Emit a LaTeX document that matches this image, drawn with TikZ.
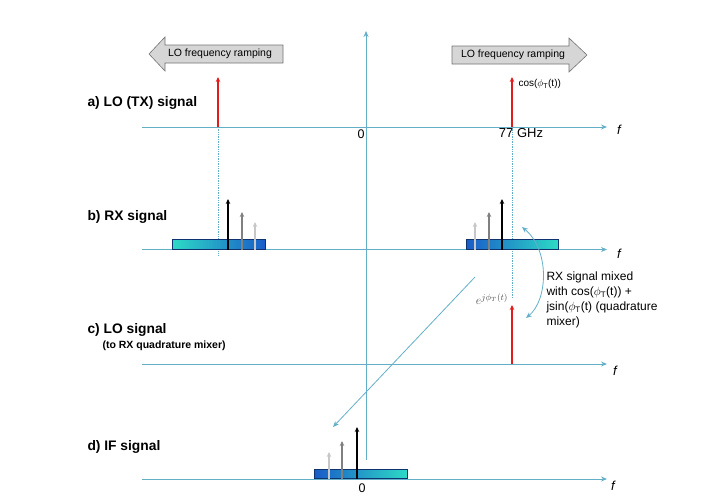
\documentclass[tikz,border=0pt]{standalone}
\usepackage{fontspec}
\setmainfont{Liberation Sans}
\usetikzlibrary{arrows.meta}
\definecolor{axisblue}{RGB}{100,175,200}
\definecolor{tonered}{RGB}{226,28,28}
\definecolor{bandteal}{RGB}{45,218,198}
\definecolor{bandmid}{RGB}{35,140,215}
\definecolor{bandblue}{RGB}{25,92,200}
\definecolor{rampgray}{RGB}{214,214,214}
\tikzset{
  faxis/.style   = {draw=axisblue, line width=0.9pt, -{Stealth[length=6pt, width=5pt]}},
  guide/.style   = {draw=axisblue, densely dotted, line width=0.7pt},
  pointer/.style = {draw=axisblue, line width=0.8pt, -{Stealth[length=6pt, width=5pt]}},
  lotone/.style  = {draw=tonered, line width=1.7pt, -{Stealth[length=5pt, width=4.5pt]}},
  echo/.style    = {line width=1.4pt, -{Stealth[length=5pt, width=4.5pt]}},
  echoa/.style   = {echo, draw=black},
  echob/.style   = {echo, draw=black!50, line width=1.2pt},
  echoc/.style   = {echo, draw=black!22, line width=1.1pt},
  % Bands: the colour runs from the strong echo side to the weak one.
  band/.style    = {draw=bandblue!55!black, line width=0.6pt, minimum height=9.5pt,
                    inner sep=0pt, anchor=south west},
  bandup/.style  = {band, left color=bandteal, middle color=bandmid, right color=bandblue},
  banddown/.style= {band, left color=bandblue, middle color=bandmid, right color=bandteal},
  ramp/.style    = {draw=black!55, fill=rampgray, line width=0.6pt},
  rowlabel/.style= {anchor=west, font=\bfseries\fontsize{13.8}{15}\selectfont},
  axlabel/.style = {font=\itshape\fontsize{13}{15}\selectfont},
  note/.style    = {font=\fontsize{12}{15}\selectfont, align=left, anchor=north west},
}

\begin{document}
\begin{tikzpicture}[x=1pt, y=-1pt]
  \useasboundingbox (0,0) rectangle (720,499);

  % frequency axes
  \coordinate (a0) at (142,127);   \coordinate (a1) at (607,127);
  \coordinate (b0) at (142,249.5); \coordinate (b1) at (607,249.5);
  \coordinate (c0) at (142,364);   \coordinate (c1) at (607,364);
  \coordinate (d0) at (142,479);   \coordinate (d1) at (607,479);
  \coordinate (v0) at (366,460);   \coordinate (v1) at (366,31);
  \draw[faxis] (a0) -- (a1);
  \draw[faxis] (b0) -- (b1);
  \draw[faxis] (c0) -- (c1);
  \draw[faxis] (d0) -- (d1);
  \draw[faxis] (v0) -- (v1);

  \node[axlabel] (fa) at (619,130) {f};
  \node[axlabel] (fb) at (619,254) {f};
  \node[axlabel] (fc) at (615,371) {f};
  \node[axlabel] (fd) at (613,486) {f};

  \node[font=\fontsize{12.5}{14}\selectfont] (zeroa) at (361,134) {0};
  \node[font=\fontsize{12.5}{14}\selectfont] (zerod) at (362,488) {0};
  \node[font=\fontsize{13}{15}\selectfont] (ghz) at (521,133) {77 GHz};

  % row titles
  \node[rowlabel] (ta) at (84,103) {a) LO (TX) signal};
  \node[rowlabel] (tb) at (84,217) {b) RX signal};
  \node[rowlabel] (tc) at (84,330) {c) LO signal};
  \node[anchor=west, font=\bfseries\fontsize{10.5}{12}\selectfont] (tc2) at (99,346)
       {(to RX quadrature mixer)};
  \node[rowlabel] (td) at (84,447) {d) IF signal};

  % LO ramp arrows
  \filldraw[ramp] (149,54) -- (165,37) -- (165,45) -- (283,45) -- (283,63)
                  -- (165,63) -- (165,71) -- cycle;
  \node[font=\fontsize{10.5}{12}\selectfont] (rampl) at (220,54) {LO frequency ramping};
  \filldraw[ramp] (587,55) -- (569,38) -- (569,46) -- (452,46) -- (452,64)
                  -- (569,64) -- (569,72) -- cycle;
  \node[font=\fontsize{10.5}{12}\selectfont] (rampr) at (513,55) {LO frequency ramping};

  % LO tones
  \coordinate (la) at (218,127); \coordinate (lat) at (218,77);
  \coordinate (ra) at (512,127); \coordinate (rat) at (512,77);
  \coordinate (rc) at (512,364); \coordinate (rct) at (512,305);
  \draw[guide] (218,127) -- (218,256);
  \draw[guide] (512,127) -- (512,298);
  \draw[lotone] (la) -- (lat);
  \draw[lotone] (ra) -- (rat);
  \draw[lotone] (rc) -- (rct);
  \node[anchor=west, font=\fontsize{10}{12}\selectfont] (cosl) at (515,84)
       {cos($\phi_{\mathrm{T}}$(t))};
  \node[text=black!70, font=\fontsize{12.5}{14}\selectfont] (expl) at (492,299)
       {$e^{j\phi_T(t)}$};

  % RX echoes, lower image
  \node[bandup, minimum width=93pt] (bandl) at (172,249.5) {};
  \draw[echoa] (228,249.5) -- (228,199);
  \draw[echob] (242,249.5) -- (242,212);
  \draw[echoc] (255,249.5) -- (255,222);

  % RX echoes, upper image
  \node[banddown, minimum width=92pt] (bandr) at (466,249.5) {};
  \draw[echoc] (475,249.5) -- (475,222);
  \draw[echob] (489,249.5) -- (489,212);
  \draw[echoa] (502,249.5) -- (502,199);

  % IF output
  \node[banddown, minimum width=93pt] (bandd) at (314,479) {};
  \draw[echoc] (329,479) -- (329,452);
  \draw[echob] (342,479) -- (342,441);
  \draw[echoa] (357,479) -- (357,427);

  % mixing
  \coordinate (mixtop) at (522,227);
  \coordinate (mixbot) at (526,318);
  \draw[pointer, {Stealth[length=6pt, width=5pt]}-{Stealth[length=6pt, width=5pt]}]
       (mixtop) .. controls (550,250) and (548,300) .. (mixbot);
  \node[note] (mixnote) at (543,268)
       {RX signal mixed\\with cos($\phi_{\mathrm{T}}$(t)) +\\jsin($\phi_{\mathrm{T}}$(t) (quadrature\\mixer)};

  \coordinate (ifs) at (475,277);
  \coordinate (ife) at (333,427);
  \draw[pointer] (ifs) -- (ife);
\end{tikzpicture}
\end{document}
